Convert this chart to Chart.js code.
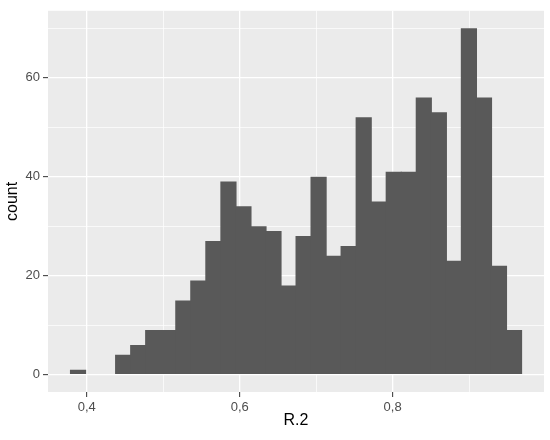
<!DOCTYPE html>
<html>
<head>
<meta charset="utf-8">
<script src="https://cdn.jsdelivr.net/npm/chart.js@4"></script>
<style>
  body { margin: 0; background: #fff; }
  #wrap { width: 550px; height: 440px; }
</style>
</head>
<body>
<div id="wrap"><canvas id="histChart"></canvas></div>
<script>
// histogram bins of R.2 (bin centers) and their counts
const binCenters = [0.3886, 0.4083, 0.4280, 0.4476, 0.4673, 0.4869, 0.5066, 0.5263, 0.5459, 0.5656,
                    0.5853, 0.6049, 0.6246, 0.6442, 0.6639, 0.6836, 0.7032, 0.7229, 0.7425, 0.7622,
                    0.7819, 0.8015, 0.8212, 0.8408, 0.8605, 0.8802, 0.8998, 0.9195, 0.9391, 0.9588];
const counts = [1, 0, 0, 4, 6, 9, 9, 15, 19, 27,
                39, 34, 30, 29, 18, 28, 40, 24, 26, 52,
                35, 41, 41, 56, 53, 23, 70, 56, 22, 9];
const xTicks = [0.4, 0.5, 0.6, 0.7, 0.8, 0.9];
const xLabels = ['0,4', '', '0,6', '', '0,8', ''];
const yTicks = [0, 10, 20, 30, 40, 50, 60, 70];
const yLabels = ['0', '', '20', '', '40', '', '60', ''];

const panelBg = {
    id: 'panelBg',
    beforeDraw(chart) {
        const a = chart.chartArea;
        const c = chart.ctx;
        c.save();
        c.fillStyle = '#ebebeb';
        c.fillRect(a.left, a.top, a.right - a.left, a.bottom - a.top);
        c.restore();
    }
};

const isMajor = (ctx, labels, ticks) => {
    if (!ctx.tick) return false;
    const i = ticks.indexOf(+ctx.tick.value.toFixed(2));
    return i >= 0 && labels[i] !== '';
};

const ctx = document.getElementById('histChart').getContext('2d');
new Chart(ctx, {
    type: 'bar',
    data: {
        datasets: [{
            data: binCenters.map((x, i) => ({ x: x, y: counts[i] })),
            backgroundColor: '#595959',
            borderWidth: 0,
            barPercentage: 1.08,
            categoryPercentage: 1
        }]
    },
    plugins: [panelBg],
    options: {
        responsive: true,
        maintainAspectRatio: false,
        animation: false,
        layout: { padding: { top: 5, right: 6, left: 0, bottom: 0 } },
        plugins: { legend: { display: false }, tooltip: { enabled: false } },
        scales: {
            x: {
                type: 'linear',
                offset: false,
                min: 0.3493,
                max: 0.998,
                afterBuildTicks: s => { s.ticks = xTicks.map(v => ({ value: v })); },
                afterFit: s => { s.height = 48; },
                border: { display: false },
                grid: {
                    offset: false,
                    color: '#ffffff',
                    lineWidth: c => isMajor(c, xLabels, xTicks) ? 1.3 : 0.7,
                    tickColor: c => isMajor(c, xLabels, xTicks) ? '#333333' : 'rgba(0,0,0,0)',
                    tickLength: 5,
                    tickWidth: 1
                },
                ticks: {
                    autoSkip: false,
                    maxRotation: 0,
                    padding: 3,
                    color: '#4d4d4d',
                    font: { family: 'Liberation Sans', size: 13 },
                    callback: (v, i) => xLabels[i]
                },
                title: {
                    display: true,
                    text: 'R.2',
                    color: '#000000',
                    font: { family: 'Liberation Sans', size: 16 },
                    padding: { top: 0, bottom: 10 }
                }
            },
            y: {
                min: -3.5,
                max: 73.5,
                afterBuildTicks: s => { s.ticks = yTicks.map(v => ({ value: v })); },
                afterFit: s => { s.width = 48; },
                border: { display: false },
                grid: {
                    color: '#ffffff',
                    lineWidth: c => isMajor(c, yLabels, yTicks) ? 1.3 : 0.7,
                    tickColor: c => isMajor(c, yLabels, yTicks) ? '#333333' : 'rgba(0,0,0,0)',
                    tickLength: 5,
                    tickWidth: 1
                },
                ticks: {
                    autoSkip: false,
                    padding: 3,
                    color: '#4d4d4d',
                    font: { family: 'Liberation Sans', size: 13 },
                    callback: (v, i) => yLabels[i]
                },
                title: {
                    display: true,
                    text: 'count',
                    color: '#000000',
                    font: { family: 'Liberation Sans', size: 16 },
                    padding: { top: 3, bottom: 0 }
                }
            }
        }
    }
});
</script>
</body>
</html>
